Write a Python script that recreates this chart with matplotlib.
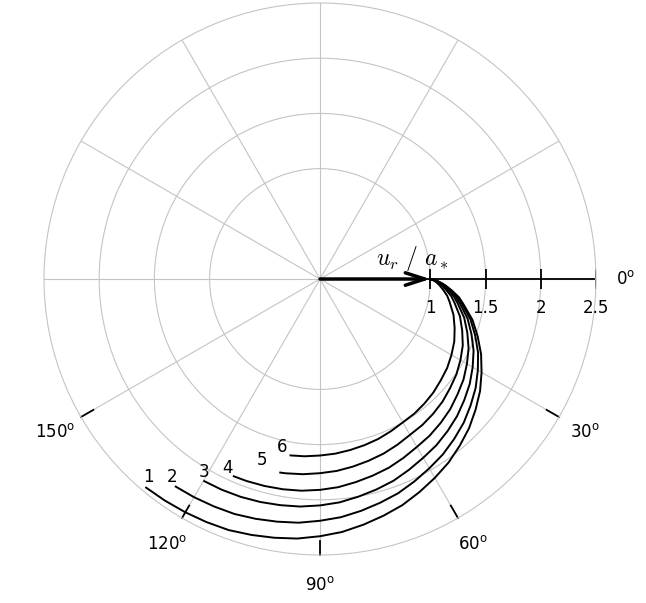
import numpy as np
import matplotlib
matplotlib.use('Agg')
import matplotlib.pyplot as plt

# curves: angle in degrees (clockwise from 0) and u_r/a*
theta_1 = [0, 1, 2, 3, 5, 7.5, 10, 15, 20, 25, 30, 35, 40, 45, 50, 55, 60, 65, 70, 75, 80, 85,
           90, 95, 100, 105, 110, 115, 120, 125, 129.8]
r_1 = [1.00, 1.065, 1.105, 1.14, 1.20, 1.27, 1.32, 1.43, 1.52, 1.61, 1.69, 1.77, 1.84, 1.91, 1.97,
       2.03, 2.08, 2.13, 2.18, 2.22, 2.26, 2.30, 2.33, 2.36, 2.38, 2.40, 2.42, 2.43, 2.44, 2.45, 2.46]

theta_2 = [0, 1, 2, 3, 5, 7.5, 10, 15, 20, 25, 30, 35, 40, 45, 50, 55, 60, 65, 70, 75, 80, 85,
           90, 95, 100, 105, 110, 115, 120, 124.8]
r_2 = [1.00, 1.062, 1.101, 1.134, 1.192, 1.259, 1.307, 1.411, 1.496, 1.580, 1.651, 1.721, 1.781,
       1.841, 1.891, 1.940, 1.980, 2.023, 2.066, 2.099, 2.133, 2.166, 2.190, 2.216, 2.232, 2.249,
       2.265, 2.273, 2.282, 2.29]

theta_3 = [0, 1, 2, 3, 5, 7.5, 10, 15, 20, 25, 30, 35, 40, 45, 50, 55, 60, 65, 70, 75, 80, 85,
           90, 95, 100, 105, 110, 115, 119.8]
r_3 = [1.00, 1.059, 1.095, 1.126, 1.18, 1.243, 1.288, 1.384, 1.460, 1.535, 1.597, 1.656, 1.706,
       1.756, 1.798, 1.838, 1.870, 1.907, 1.945, 1.974, 2.002, 2.031, 2.051, 2.069, 2.080, 2.091,
       2.100, 2.106, 2.11]

theta_4 = [0, 1, 2, 3, 5, 7.5, 10, 15, 20, 25, 30, 35, 40, 45, 50, 55, 60, 65, 70, 75, 80, 85,
           90, 95, 100, 105, 110, 113.6]
r_4 = [1.00, 1.054, 1.087, 1.116, 1.166, 1.224, 1.266, 1.352, 1.420, 1.485, 1.537, 1.587, 1.626,
       1.668, 1.701, 1.732, 1.756, 1.788, 1.820, 1.844, 1.868, 1.893, 1.910, 1.925, 1.934, 1.941,
       1.947, 1.95]

theta_5 = [0, 1, 2, 3, 5, 7.5, 10, 15, 20, 25, 30, 35, 40, 45, 50, 55, 60, 65, 70, 75, 80, 85,
           90, 95, 100, 101.6]
r_5 = [1.00, 1.048, 1.078, 1.104, 1.148, 1.20, 1.237, 1.313, 1.371, 1.427, 1.469, 1.508, 1.538,
       1.570, 1.594, 1.615, 1.630, 1.657, 1.683, 1.704, 1.725, 1.745, 1.759, 1.775, 1.787, 1.79]

theta_6 = [0, 1, 2, 3, 5, 7.5, 10, 15, 20, 25, 30, 35, 40, 45, 50, 55, 60, 65, 70, 75, 80, 85,
           90, 95, 99.5]
r_6 = [1.00, 1.039, 1.063, 1.084, 1.12, 1.162, 1.192, 1.252, 1.298, 1.342, 1.375, 1.406, 1.428,
       1.453, 1.472, 1.489, 1.50, 1.521, 1.542, 1.558, 1.573, 1.588, 1.599, 1.612, 1.62]

curve_names = ['1', '2', '3', '4', '5', '6']
r_ticks = [1, 1.5, 2, 2.5]
r_tick_labels = ['1', '1.5', '2', '2.5']
angle_ticks = [0, 30, 60, 90, 120, 150]
angle_labels = [str(a) + r'$^{\mathrm{o}}$' for a in angle_ticks]

# where the curve numbers sit (deg, r)
name_pos = [(130.9, 2.37), (126.7, 2.24), (121.1, 2.04), (116.1, 1.91), (107.7, 1.72), (102.7, 1.56)]

fig = plt.figure(figsize=(6.46, 6.03), dpi=100)
ax = fig.add_axes([0.0681, 0.0796, 0.8545, 0.9154], projection='polar')
ax.set_theta_zero_location('E')
ax.set_theta_direction(-1)
ax.set_rlim(0, 2.5)
ax.set_rticks([1, 1.5, 2])
ax.set_yticklabels([])
ax.set_thetagrids(range(0, 360, 30), labels=[])
ax.grid(color='#c4c4c4', lw=0.8)
ax.spines['polar'].set_color('#c4c4c4')
ax.spines['polar'].set_linewidth(0.8)

# 0 deg axis with its ticks
ax.plot([0, 0], [0, 2.5], color='k', lw=1.3)
ax.plot([0] * len(r_ticks), r_ticks, ls='none', marker='|', ms=15, mew=1.3, color='k')
for rv, lab in zip(r_ticks, r_tick_labels):
    ax.annotate(lab, xy=(0, rv), xytext=(0, -29), textcoords='offset pixels',
                ha='center', va='center', fontsize=12)

# short ticks on the lower spokes
for a in angle_ticks[1:]:
    ax.plot([np.radians(a)] * 2, [2.37, 2.5], color='k', lw=1.3, clip_on=False)
for a, lab in zip(angle_ticks, angle_labels):
    ax.text(np.radians(a), 2.77, lab, ha='center', va='center', fontsize=12)

thetas = [theta_1, theta_2, theta_3, theta_4, theta_5, theta_6]
rs = [r_1, r_2, r_3, r_4, r_5, r_6]
for th, r, name, (pa, pr) in zip(thetas, rs, curve_names, name_pos):
    ax.plot(np.radians(th), r, color='k', lw=1.4, solid_joinstyle='round')
    ax.text(np.radians(pa), pr, name, ha='center', va='center', fontsize=12)

# arrow u_r/a*
ax.annotate('', xy=(0, 1.0), xytext=(0, 0),
            arrowprops=dict(arrowstyle='->,head_length=1.4,head_width=0.45',
                            color='k', lw=2.5, shrinkA=0, shrinkB=0))
ax.annotate(r'$u_r\ /\ a_*$', xy=(0, 1.0), xytext=(-18, 21), textcoords='offset pixels',
            ha='center', va='center', fontsize=17, math_fontfamily='cm')

fig.savefig('out.png', dpi=100)
